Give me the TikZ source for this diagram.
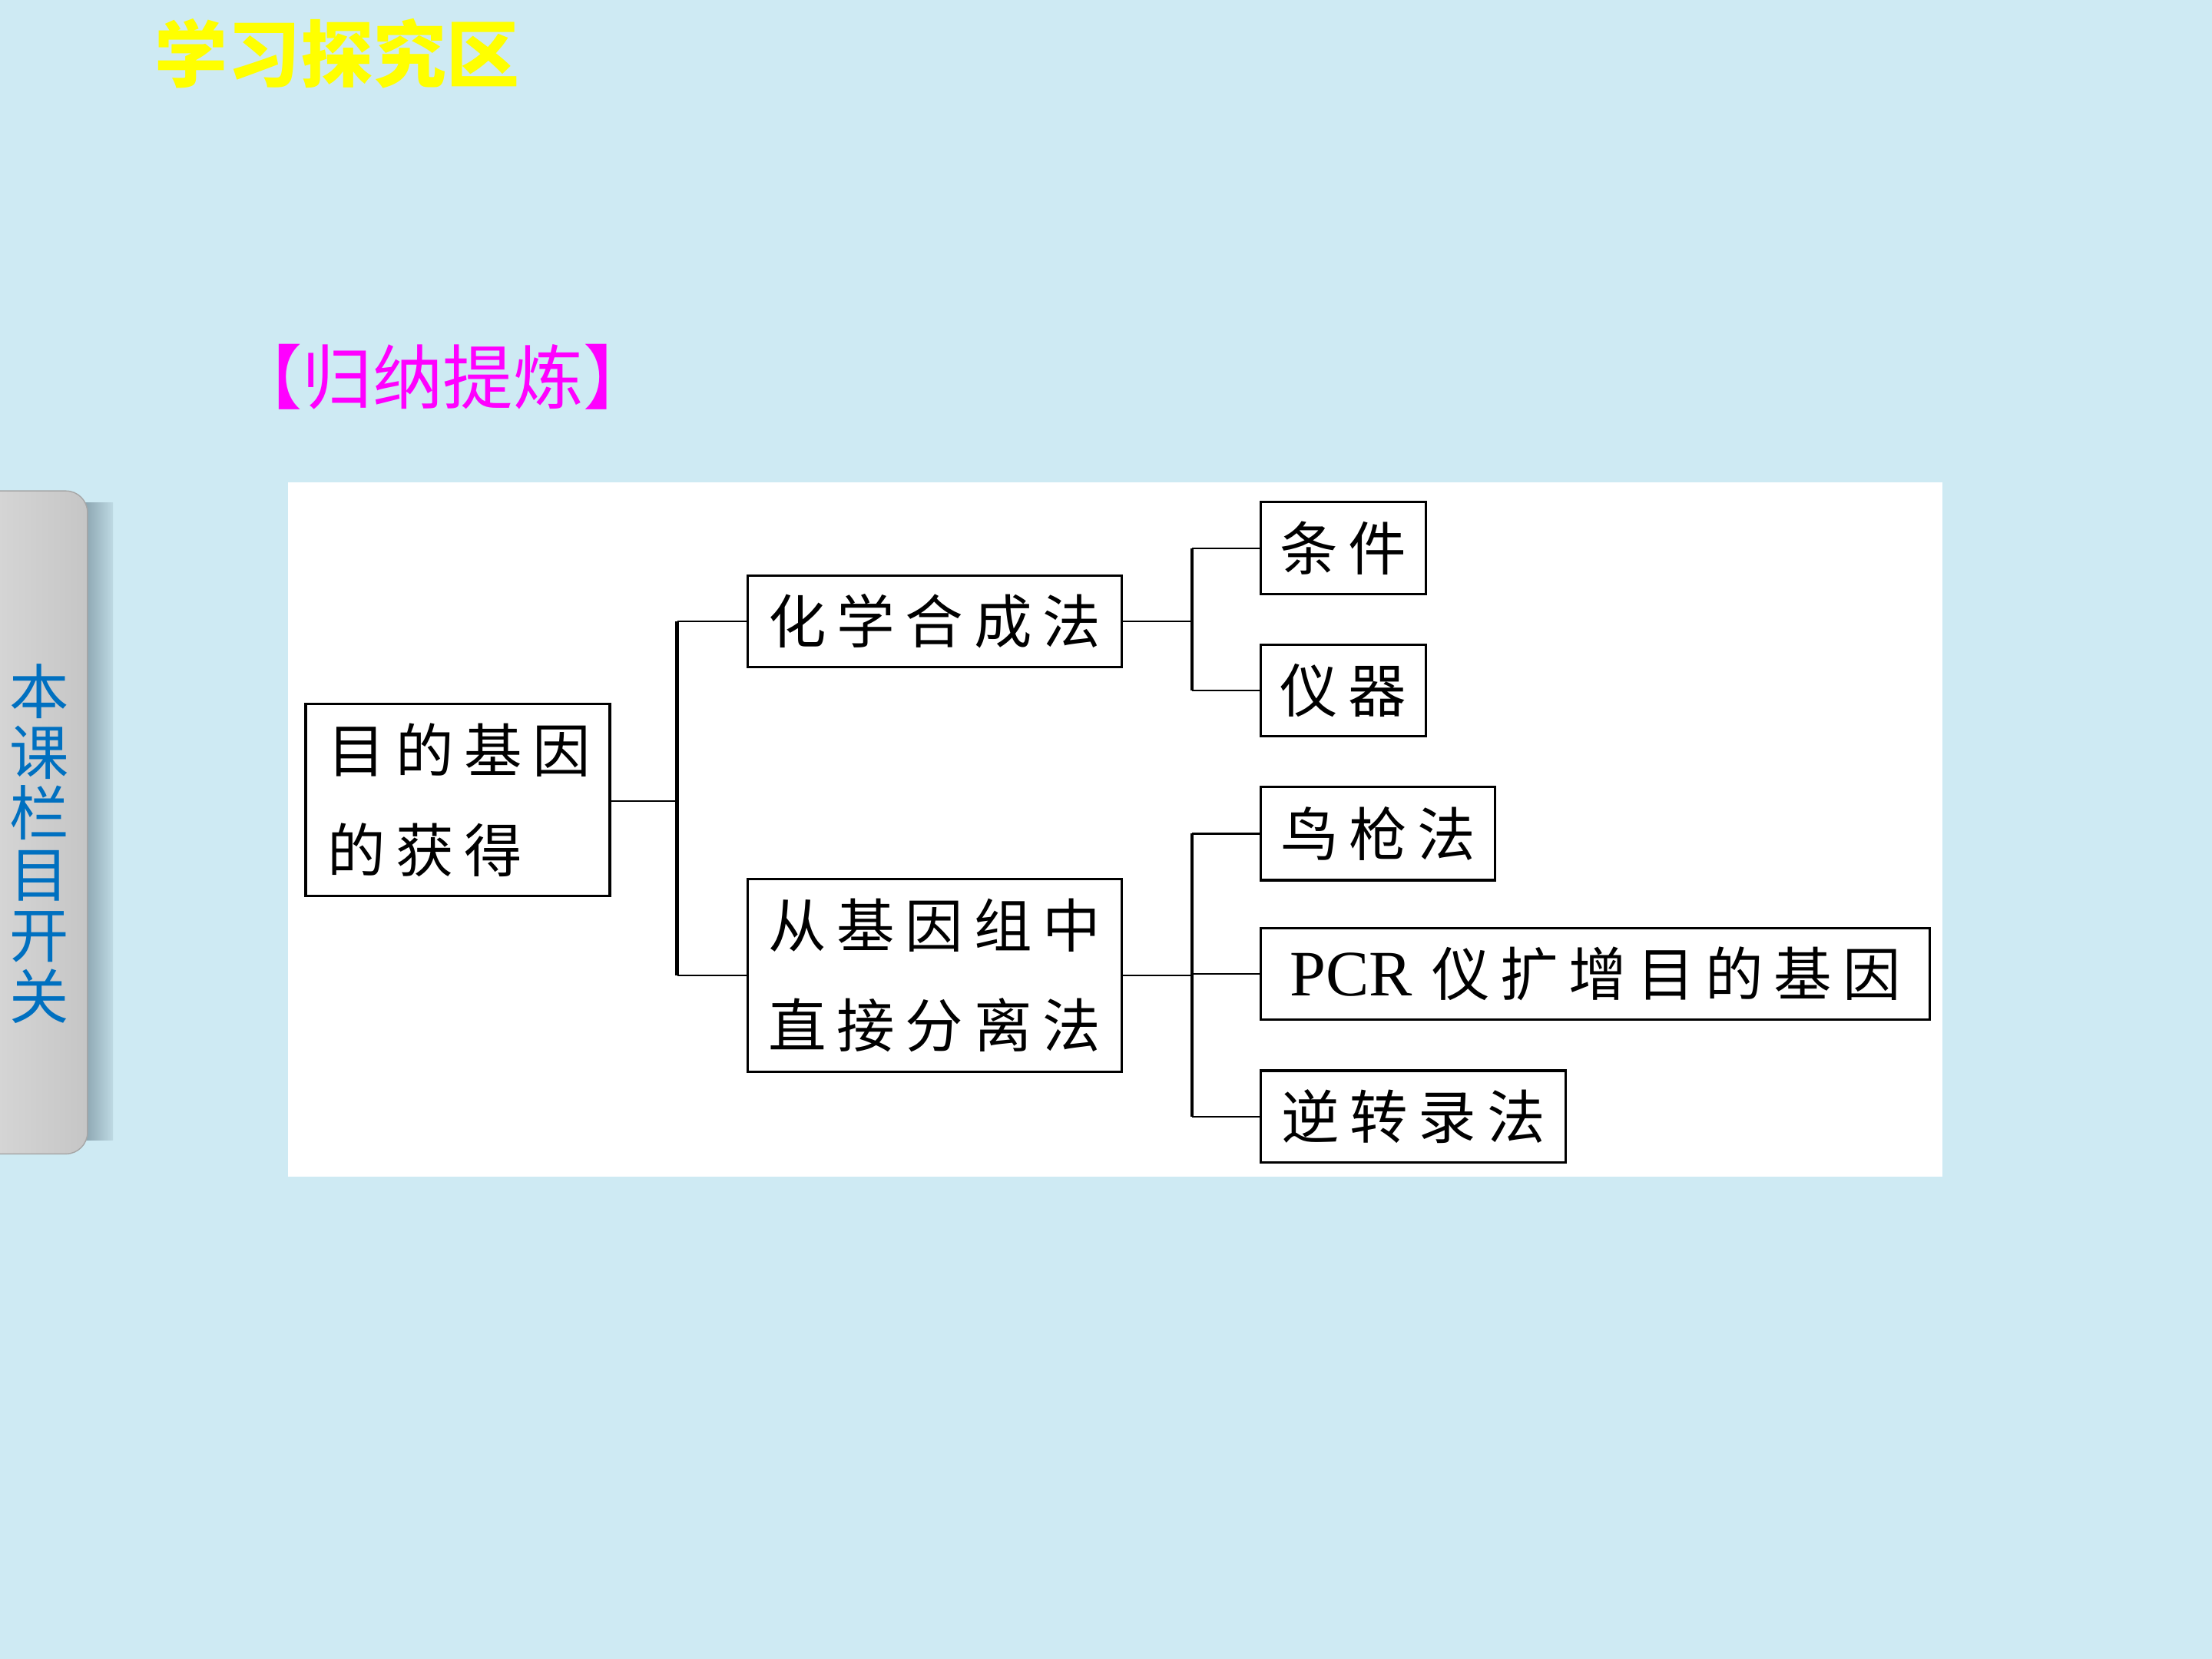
\documentclass[tikz,border=0pt]{standalone}
\usepackage{fontspec}
\setmainfont{Liberation Serif}
\newfontfamily\cjk[LetterSpace=18]{Noto Sans CJK SC}
\newfontfamily\cjkplain{Noto Sans CJK SC}
\usetikzlibrary{positioning}
\definecolor{slidebg}{RGB}{206,234,243}
\definecolor{tabblue}{RGB}{0,112,192}
\definecolor{tabshadow}{RGB}{125,150,162}
\definecolor{headmagenta}{RGB}{255,0,255}
\definecolor{titleyellow}{RGB}{255,255,0}

\tikzset{
  box/.style={draw, line width=0.9pt, fill=white, inner sep=0pt,
    font=\cjk\fontsize{21.5}{37}\selectfont},
  twig/.style={line width=0.6pt},
  trunk/.style={line width=1.3pt},
}

\begin{document}
\begin{tikzpicture}
  \useasboundingbox (0,0) rectangle (28.8,21.6);
  \fill[slidebg] (0,0) rectangle (28.8,21.6);

  % side tab
  \shade[left color=tabshadow, right color=slidebg!80!tabshadow] (1.0,6.75) rectangle (1.47,15.05);
  \shade[left color=gray!28, right color=gray!45, draw=gray!70, rounded corners=8pt]
    (-0.5,6.576) rectangle (1.139,15.208);
  \node[tabblue, font=\cjkplain\fontsize{22}{22.6}\selectfont, align=center] (tabtext)
    at (0.514,10.617) {本\\课\\栏\\目\\开\\关};

  % headings
  \node[titleyellow, font=\cjkplain\bfseries\fontsize{27}{27}\selectfont] (title)
    at (4.39,20.90) {学习探究区};
  \node[headmagenta, font=\cjkplain\fontsize{26}{26}\selectfont] (summary)
    at (5.767,16.696) {【归纳提炼】};

  % white panel
  \fill[white] (3.747,6.282) rectangle (25.29,15.319);

  % boxes
  \node[box, minimum height=2.5cm, text width=3.4cm, inner xsep=0.28cm, align=left] (goal)
    at (5.96,11.186) {目的基因\\的获得};
  \node[box, minimum width=4.868cm, minimum height=1.194cm] (chem)
    at (12.168,13.509) {化学合成法};
  \node[box, minimum width=4.868cm, minimum height=2.516cm, align=center] (iso)
    at (12.168,8.899) {从基因组中\\直接分离法};
  \node[box, anchor=west, minimum width=2.149cm, minimum height=1.193cm] (cond)
    at (16.402,14.464) {条件};
  \node[box, anchor=west, minimum width=2.149cm, minimum height=1.193cm] (inst)
    at (16.402,12.609) {仪器};
  \node[box, anchor=west, minimum width=3.049cm, minimum height=1.212cm] (gun)
    at (16.402,10.745) {鸟枪法};
  \node[box, anchor=west, minimum width=8.706cm, minimum height=1.194cm] (pcr)
    at (16.402,8.918) {{\rmfamily\fontsize{24}{24}\selectfont PCR}\hspace{0.25cm}仪扩增目的基因};
  \node[box, anchor=west, minimum width=3.967cm, minimum height=1.193cm] (rt)
    at (16.402,7.063) {逆转录法};

  % connectors
  \coordinate (jgoal) at (8.816,11.168);
  \coordinate (jchem) at (15.52,13.509);
  \coordinate (jiso) at (15.52,8.899);
  \draw[twig] (goal.east |- jgoal) -- (jgoal);
  \draw[trunk] (jgoal |- chem.west) -- (jgoal |- iso.west);
  \draw[twig] (jgoal |- chem.west) -- (chem.west);
  \draw[twig] (jgoal |- iso.west) -- (iso.west);

  \draw[twig] (chem.east) -- (jchem);
  \draw[trunk] (jchem |- cond.west) -- (jchem |- inst.west);
  \foreach \leaf in {cond,inst}
    \draw[twig] (jchem |- \leaf.west) -- (\leaf.west);

  \draw[twig] (iso.east) -- (jiso);
  \draw[trunk] (jiso |- gun.west) -- (jiso |- rt.west);
  \foreach \leaf in {gun,pcr,rt}
    \draw[twig] (jiso |- \leaf.west) -- (\leaf.west);
\end{tikzpicture}
\end{document}
